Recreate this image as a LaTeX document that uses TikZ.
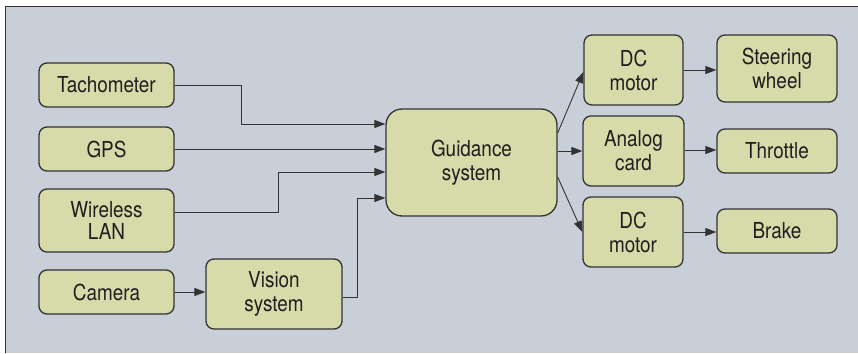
\documentclass[tikz,border=0pt]{standalone}
\usepackage{fontspec}
\setmainfont[FakeStretch=0.86]{TeX Gyre Heros}
\usetikzlibrary{arrows.meta}
\definecolor{bgc}{HTML}{C9CFD8}
\definecolor{boxc}{HTML}{D6DBA9}
\definecolor{linec}{HTML}{333333}
\definecolor{txtc}{HTML}{1E1E1E}
\begin{document}
\begin{tikzpicture}[x=1pt,y=-1pt,
  blk/.style={draw=linec,line width=1.3pt,fill=boxc,rounded corners=8pt,inner sep=0pt,
    align=center,text=txtc,font=\fontsize{22}{24}\selectfont},
  arr/.style={draw=linec,line width=0.9pt,-{Triangle[length=11pt,width=8pt]}}]
\useasboundingbox (0,0) rectangle (858,353);
\fill[bgc] (5,7) rectangle (858,353);
\draw[linec,line width=1pt] (5,353) -- (5,7) -- (858,7);
% left column
\node[blk,minimum width=135pt,minimum height=44pt] (tach) at (106.5,85) {Tachometer};
\node[blk,minimum width=135pt,minimum height=44pt] (gps) at (106.5,149) {GPS};
\node[blk,minimum width=135pt,minimum height=63pt,font=\fontsize{22}{21.5}\selectfont] (wlan) at (106.5,220.5) {Wireless\\LAN};
\node[blk,minimum width=135pt,minimum height=44pt] (cam) at (106.5,292) {Camera};
\node[blk,minimum width=136pt,minimum height=70pt] (vis) at (274,294) {Vision\\system};
% center
\node[blk,rounded corners=16pt,minimum width=171pt,minimum height=107pt] (guid) at (471.5,162.5) {Guidance\\system};
% right
\node[blk,minimum width=99pt,minimum height=70pt] (dc1) at (633.5,70) {DC\\motor};
\node[blk,minimum width=101pt,minimum height=70pt] (ana) at (633.5,151) {Analog\\card};
\node[blk,minimum width=100pt,minimum height=70pt] (dc2) at (633,232) {DC\\motor};
\node[blk,minimum width=120pt,minimum height=67pt] (steer) at (777,68.5) {Steering\\wheel};
\node[blk,minimum width=120pt,minimum height=44pt] (thr) at (777,151) {Throttle};
\node[blk,minimum width=120pt,minimum height=44pt] (brake) at (777,231) {Brake};
% connectors
\draw[arr] (tach.east) -| ([xshift=-144pt,yshift=38.5pt]guid.west) -- ([yshift=38.5pt]guid.west);
\draw[arr] (gps.east) -- (gps.east -| guid.west);
\draw[arr] ([yshift=8.5pt]wlan.east) -| ([xshift=-107pt,yshift=-9.5pt]guid.west) -- ([yshift=-9.5pt]guid.west);
\draw[arr] ([yshift=-3pt]vis.east) -| ([xshift=-28pt,yshift=-35.5pt]guid.west) -- ([yshift=-35.5pt]guid.west);
\draw[arr] (cam.east) -- (cam.east -| vis.west);
\draw[arr] ([yshift=29.5pt]guid.east) -- ([yshift=-2pt]dc1.west);
\draw[arr] (guid.east |- ana.west) -- (ana.west);
\draw[arr] ([yshift=-14.5pt]guid.east) -- (dc2.west);
\draw[arr] (dc1.east) -- (dc1.east -| steer.west);
\draw[arr] ([yshift=1pt]ana.east) -- ([yshift=1pt]ana.east -| thr.west);
\draw[arr] (dc2.east) -- (dc2.east -| brake.west);
\end{tikzpicture}
\end{document}
